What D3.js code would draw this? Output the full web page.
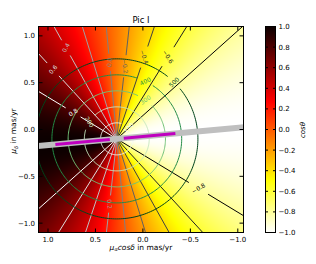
<!DOCTYPE html>
<html>
<head>
<meta charset="utf-8">
<script src="https://cdn.jsdelivr.net/npm/d3@7"></script>
<style>
  body { margin: 0; background: #fff; }
  svg { display: block; }
</style>
</head>
<body>
<div id="chart"></div>
<script>
// ---- data ----
const xTicks = [1.0, 0.5, 0.0, -0.5, -1.0];
const yTicks = [1.0, 0.5, 0.0, -0.5, -1.0];
const cbTicks = [1.0, 0.8, 0.6, 0.4, 0.2, 0.0, -0.2, -0.4, -0.6, -0.8, -1.0];

const center = [0.275, -0.10];      // mas/yr, where all rays meet
const refAngleDeg = -5.3;           // direction with cos = 1

const cosLevels = [-0.8, -0.6, -0.4, -0.2, 0.0, 0.2, 0.4, 0.6, 0.8];
const cosLabelLevels = [0.8, 0.6, 0.4, 0.0, -0.2, -0.4, -0.6, -0.8, 0.2];
const cosLabelSide   = [1, 1, 1, 1, 1, 1, 1, -1, -1];   // 1 = upper ray, -1 = lower ray
const cosLabelDist   = [0.54, 1.0, 1.11, 0.82, 0.78, 0.92, 1.03, 1.01, 0.70];

const speedLevels = [100, 200, 300, 400, 500];          // km/s
const speedLabelAngle = [137, 32, 126, 116, 135];       // degrees
const kmsPerMas = 585;

const magentaT = [[0.074, 0.65], [-0.074, -0.62]];      // along the reference line

// ---- layout ----
const W = 316, H = 264;
const x = d3.scaleLinear().domain([1.1, -1.06]).range([38.5, 243.5]);
const y = d3.scaleLinear().domain([-1.1, 1.1]).range([232.5, 26.5]);
const cbY = d3.scaleLinear().domain([-1, 1]).range([232.5, 26.5]);
const cbLeft = 265.5, cbRight = 275.5;
const pxPerUnit = Math.abs(x(1) - x(0));
const refAngle = refAngleDeg * Math.PI / 180;

// matplotlib "hot" reversed
function hotR(v) {
    const s = 1 - (v + 1) / 2;
    const cl = t => Math.max(0, Math.min(1, t));
    const r = s < 0.365079 ? 0.0416 + (1 - 0.0416) * s / 0.365079 : 1;
    const g = cl((s - 0.365079) / (0.746032 - 0.365079));
    const b = cl((s - 0.746032) / (1 - 0.746032));
    return [Math.round(r * 255), Math.round(g * 255), Math.round(b * 255)];
}
const cosValue = (mx, my) => Math.cos(Math.atan2(my - center[1], mx - center[0]) - refAngle);

const svg = d3.select('#chart').append('svg')
    .attr('width', W).attr('height', H)
    .style('font-family', '"DejaVu Sans", sans-serif');

const defs = svg.append('defs');
defs.append('clipPath').attr('id', 'plotClip').append('rect')
    .attr('x', 38.5).attr('y', 26.5).attr('width', 205).attr('height', 206);

// ---- colour field ----
const fx0 = 38, fy0 = 26, fw = 206, fh = 207;
const canvas = document.createElement('canvas');
canvas.width = fw; canvas.height = fh;
const ctx = canvas.getContext('2d');
const img = ctx.createImageData(fw, fh);
for (let j = 0; j < fh; j++) {
    for (let i = 0; i < fw; i++) {
        const c = hotR(cosValue(x.invert(fx0 + i + 0.5), y.invert(fy0 + j + 0.5)));
        const k = (j * fw + i) * 4;
        img.data[k] = c[0]; img.data[k + 1] = c[1]; img.data[k + 2] = c[2]; img.data[k + 3] = 255;
    }
}
ctx.putImageData(img, 0, 0);

const plotG = svg.append('g').attr('clip-path', 'url(#plotClip)');
plotG.append('image')
    .attr('x', fx0).attr('y', fy0).attr('width', fw).attr('height', fh)
    .attr('preserveAspectRatio', 'none')
    .attr('href', canvas.toDataURL());

const line = d3.line().x(p => x(p[0])).y(p => y(p[1]));
const at = (t, ang) => [center[0] + t * Math.cos(ang), center[1] + t * Math.sin(ang)];
const screenAngle = (p1, p2) => {
    let a = Math.atan2(y(p2[1]) - y(p1[1]), x(p2[0]) - x(p1[0])) * 180 / Math.PI;
    while (a > 90) a -= 180;
    while (a <= -90) a += 180;
    return -a; // labels come out mirrored (inverted x axis)
};

const lineG = plotG.append('g');
const labelG = plotG.append('g');

// ---- cos contours (rays) ----
const grayColor = d3.scaleLinear().domain([-0.8, 0.8]).range(['#000000', '#ffffff']);
cosLevels.forEach(c => {
    [1, -1].forEach(side => {
        const ang = refAngle + side * Math.acos(c);
        const li = cosLabelLevels.findIndex((l, k) => Math.abs(l - c) < 1e-9 && cosLabelSide[k] === side);
        let segs = [[0, 3]];
        if (li >= 0) {
            const d = cosLabelDist[li];
            const p = at(d, ang);
            const txt = d3.format('.1f')(c).replace('-', '\u2212');
            const t = labelG.append('text')
                .attr('transform', `translate(${x(p[0])},${y(p[1])}) rotate(${screenAngle(at(0, ang), at(1, ang))})`)
                .attr('text-anchor', 'middle').attr('dy', '0.35em')
                .style('font-size', '6px').attr('fill', grayColor(c))
                .text(txt);
            const half = (t.node().getComputedTextLength() / 2 + 4) / pxPerUnit;
            segs = [[0, d - half], [d + half, 3]];
        }
        segs.forEach(s => {
            lineG.append('path')
                .attr('d', line([at(s[0], ang), at(s[1], ang)]))
                .attr('fill', 'none').attr('stroke', grayColor(c)).attr('stroke-width', 1);
        });
    });
});

// ---- speed contours (circles) ----
const greens = d3.scaleSequential(d3.interpolateGreens).domain([100, 500]);
speedLevels.forEach((v, i) => {
    const r = v / kmsPerMas;
    const a = speedLabelAngle[i] * Math.PI / 180;
    const p = at(r, a);
    const t = labelG.append('text')
        .attr('transform', `translate(${x(p[0])},${y(p[1])}) rotate(${screenAngle(at(r, a - 0.01), at(r, a + 0.01))})`)
        .attr('text-anchor', 'middle').attr('dy', '0.35em')
        .style('font-size', '6px').attr('fill', greens(v))
        .text(v);
    const half = (t.node().getComputedTextLength() / 2 + 3) / (r * pxPerUnit);
    const pts = d3.range(0, 241).map(k => at(r, a + half + (2 * Math.PI - 2 * half) * k / 240));
    lineG.append('path')
        .attr('d', line(pts))
        .attr('fill', 'none').attr('stroke', greens(v)).attr('stroke-width', 1);
});

// ---- reference line and magenta segments ----
plotG.append('path')
    .attr('d', line([at(-3, refAngle), at(3, refAngle)]))
    .attr('stroke', '#bfbfbf').attr('stroke-width', 6).attr('fill', 'none');
magentaT.forEach(s => {
    plotG.append('path')
        .attr('d', line([at(s[0], refAngle), at(s[1], refAngle)]))
        .attr('stroke', '#bf00bf').attr('stroke-width', 3).attr('fill', 'none');
});
labelG.raise();

// ---- axes ----
const axG = svg.append('g');
axG.append('rect')
    .attr('x', 38.5).attr('y', 26.5).attr('width', 205).attr('height', 206)
    .attr('fill', 'none').attr('stroke', '#000').attr('stroke-width', 1);
const fmt = v => d3.format('.1f')(v).replace('-', '\u2212');
xTicks.forEach(v => {
    axG.append('line').attr('x1', x(v)).attr('x2', x(v)).attr('y1', 232.5).attr('y2', 228.5).attr('stroke', '#000');
    axG.append('line').attr('x1', x(v)).attr('x2', x(v)).attr('y1', 26.5).attr('y2', 30.5).attr('stroke', '#000');
    axG.append('text').attr('x', x(v)).attr('y', 241.5).attr('text-anchor', 'middle')
        .style('font-size', '7px').text(fmt(v));
});
yTicks.forEach(v => {
    axG.append('line').attr('x1', 38.5).attr('x2', 42.5).attr('y1', y(v)).attr('y2', y(v)).attr('stroke', '#000');
    axG.append('line').attr('x1', 243.5).attr('x2', 239.5).attr('y1', y(v)).attr('y2', y(v)).attr('stroke', '#000');
    axG.append('text').attr('x', 35).attr('y', y(v)).attr('dy', '0.35em').attr('text-anchor', 'end')
        .style('font-size', '7px').text(fmt(v));
});

svg.append('text').attr('x', 141).attr('y', 22.5).attr('text-anchor', 'middle')
    .style('font-size', '8.5px').text('Pic I');

const xl = svg.append('text').attr('x', 141).attr('y', 249.5).attr('text-anchor', 'middle')
    .style('font-size', '7.5px');
xl.append('tspan').style('font-style', 'italic').text('\u03bc');
xl.append('tspan').style('font-style', 'italic').style('font-size', '5px').attr('dy', 1.5).text('\u03b1');
xl.append('tspan').style('font-style', 'italic').attr('dy', -1.5).text('cos\u03b4');
xl.append('tspan').text(' in mas/yr');

const yl = svg.append('text').attr('transform', 'translate(16,131) rotate(-90)').attr('text-anchor', 'middle')
    .style('font-size', '7.5px');
yl.append('tspan').style('font-style', 'italic').text('\u03bc');
yl.append('tspan').style('font-style', 'italic').style('font-size', '5px').attr('dy', 1.5).text('\u03b4');
yl.append('tspan').attr('dy', -1.5).text(' in mas/yr');

// ---- colorbar ----
const grad = defs.append('linearGradient').attr('id', 'cbGrad')
    .attr('x1', 0).attr('y1', 1).attr('x2', 0).attr('y2', 0);
d3.range(0, 101).forEach(k => {
    const v = -1 + 2 * k / 100;
    const c = hotR(v);
    grad.append('stop').attr('offset', `${k}%`).attr('stop-color', `rgb(${c[0]},${c[1]},${c[2]})`);
});
svg.append('rect')
    .attr('x', cbLeft).attr('y', cbY(1)).attr('width', cbRight - cbLeft).attr('height', cbY(-1) - cbY(1))
    .attr('fill', 'url(#cbGrad)').attr('stroke', '#000').attr('stroke-width', 1);
cbTicks.forEach(v => {
    svg.append('line').attr('x1', cbLeft).attr('x2', cbLeft + 2.5).attr('y1', cbY(v)).attr('y2', cbY(v)).attr('stroke', '#000');
    svg.append('line').attr('x1', cbRight).attr('x2', cbRight - 2.5).attr('y1', cbY(v)).attr('y2', cbY(v)).attr('stroke', '#000');
    svg.append('text').attr('x', 278.5).attr('y', cbY(v)).attr('dy', '0.35em')
        .style('font-size', '7px').text(fmt(v));
});
svg.append('text').attr('transform', 'translate(305,130) rotate(-90)').attr('text-anchor', 'middle')
    .style('font-size', '7px').style('font-style', 'italic').text('cos\u03b8');
</script>
</body>
</html>
